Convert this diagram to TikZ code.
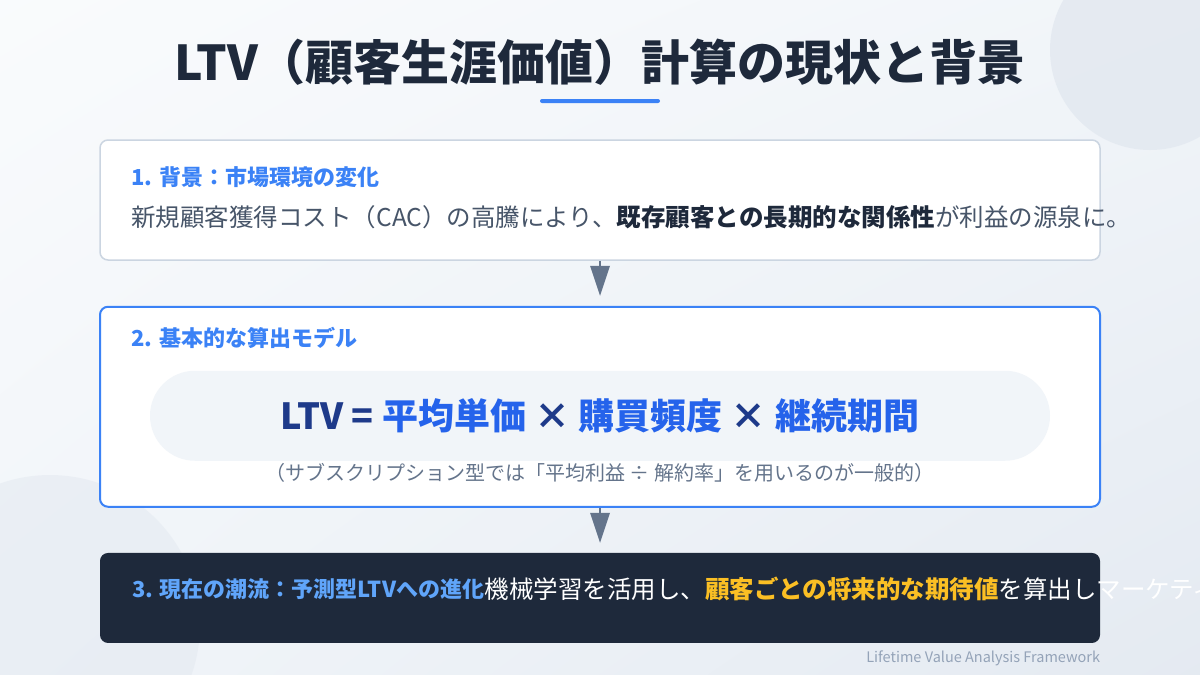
\documentclass[tikz,border=0pt]{standalone}
\usepackage{fontspec}
\setmainfont{Noto Sans CJK JP}
\usepackage{tikz}
\usetikzlibrary{
        arrows.meta,
        positioning,
        shadings
    }
\definecolor{ink}{HTML}{1E293B}
\definecolor{slate}{HTML}{475569}
\definecolor{muted}{HTML}{64748B}
\definecolor{faint}{HTML}{94A3B8}
\definecolor{accent}{HTML}{3B82F6}
\definecolor{deep}{HTML}{1E3A8A}
\definecolor{vivid}{HTML}{2563EB}
\definecolor{sky}{HTML}{60A5FA}
\definecolor{amber}{HTML}{FBBF24}
\definecolor{pill}{HTML}{F1F5F9}
\definecolor{rim}{HTML}{CBD5E1}
\definecolor{blob}{HTML}{E2E8F0}
\tikzset{>=Stealth,node distance=45pt}
\tikzset{
    panel/.style={rectangle,rounded corners=8pt,minimum width=1000pt,inner sep=0pt},
    lbl/.style={anchor=west,inner sep=0pt,font=\fontsize{22}{26}\selectfont\bfseries},
    body/.style={anchor=west,inner sep=0pt,font=\fontsize{24.5}{29}\selectfont},
    flow/.style={draw=muted,line width=1.5pt,-{Triangle[width=20pt,length=30pt,line width=0pt,fill=muted]},shorten >=10pt}
}

\begin{document}
\begin{tikzpicture}[x=1pt,y=-1pt]
                \useasboundingbox (0,0) rectangle (1200,675);
                % background and decoration
                \shade[upper left=white!60!pill,upper right=pill,lower left=pill,lower right=blob!85!pill]
                    (0,0) rectangle (1200,675);
                \fill[blob,opacity=0.8] (1150,50) circle (100);
                \fill[blob,opacity=0.5] (50,625) circle (150);
                % title
                \node[font=\fontsize{48}{54}\selectfont\bfseries,text=ink] (title) at (600,62)
                    {LTV（顧客生涯価値）計算の現状と背景};
                \node[fill=accent,rounded corners=2pt,minimum width=120pt,minimum height=4pt,inner sep=0pt]
                    (bar) at (600,101) {};
                % panels
                \node[panel,draw=rim,line width=1.5pt,fill=white,minimum height=120pt] (bg) at (600,200) {};
                \node[panel,draw=accent,line width=2pt,fill=white,minimum height=200pt,below=of bg] (model) {};
                \node[panel,fill=ink,minimum height=90pt,below=of model] (trend) {};
                % panel 1
                \node[lbl,text=accent] (bglbl) at ([xshift=32pt,yshift=-38pt]bg.north west)
                    {1. 背景：市場環境の変化};
                \node[body,text=slate] (bgtxt) at ([xshift=32pt,yshift=-78pt]bg.north west)
                    {新規顧客獲得コスト（CAC）の高騰により、\textcolor{ink}{\bfseries 既存顧客との長期的な関係性}が利益の源泉に。};
                % panel 2
                \node[lbl,text=accent] (modellbl) at ([xshift=32pt,yshift=-32pt]model.north west)
                    {2. 基本的な算出モデル};
                \node[fill=pill,rounded corners=45pt,minimum width=900pt,minimum height=90pt,inner sep=0pt]
                    (formula) at ([yshift=-110pt]model.north) {};
                \node[font=\fontsize{36}{42}\selectfont\bfseries,text=deep] (eq) at (formula)
                    {LTV = \textcolor{vivid}{平均単価} × \textcolor{vivid}{購買頻度} × \textcolor{vivid}{継続期間}};
                \node[font=\fontsize{20}{24}\selectfont,text=muted,inner sep=0pt] (note) at ([yshift=-12pt]formula.south)
                    {（サブスクリプション型では「平均利益 ÷ 解約率」を用いるのが一般的）};
                % panel 3
                \node[lbl,text=sky] (trendlbl) at ([xshift=32pt,yshift=-36pt]trend.north west)
                    {3. 現在の潮流：予測型LTVへの進化};
                \node[body,text=white] (trendtxt) at (trendlbl.east)
                    {機械学習を活用し、\textcolor{amber}{\bfseries 顧客ごとの将来的な期待値}を算出しマーケティ};
                % footer
                \node[anchor=east,inner sep=0pt,text=faint,font=\fontsize{14.5}{17}\selectfont] (foot)
                    at ([yshift=-15pt]trend.south east) {Lifetime Value Analysis Framework};
                % connectors
                \path[flow]
                    (bg) edge (model)
                    (model) edge (trend)
                    ;
            \end{tikzpicture}
\end{document}
